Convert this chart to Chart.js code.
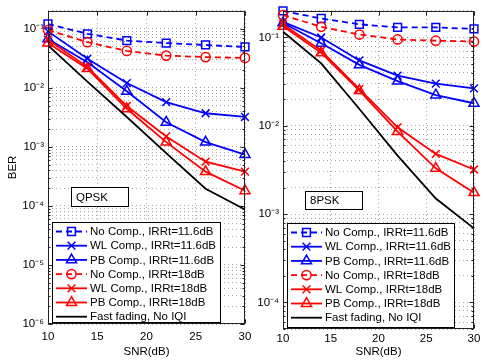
<!DOCTYPE html>
<html>
<head>
<meta charset="utf-8">
<script src="https://cdn.jsdelivr.net/npm/chart.js@4.4.0/dist/chart.umd.min.js"></script>
<style>
body{margin:0;background:#fff;width:485px;height:361px;position:relative;overflow:hidden}
canvas{position:absolute;top:0}
#qpsk{left:0}
#psk8{left:250px}
</style>
</head>
<body>
<canvas id="qpsk" width="258" height="361"></canvas>
<canvas id="psk8" width="235" height="361"></canvas>
<script>
// x axis
var snr = [10, 14, 18, 22, 26, 30]
var xTicks = [10, 15, 20, 25, 30]

var labels = ['No Comp., IRRt=11.6dB', 'WL Comp., IRRt=11.6dB', 'PB Comp., IRRt=11.6dB',
              'No Comp., IRRt=18dB', 'WL Comp., IRRt=18dB', 'PB Comp., IRRt=18dB',
              'Fast fading, No IQI']

// QPSK BER
var qpskNo116 = [0.12, 0.082, 0.063, 0.057, 0.053, 0.049]
var qpskWl116 = [0.09, 0.031, 0.012, 0.0057, 0.0037, 0.0032]
var qpskPb116 = [0.067, 0.027, 0.0087, 0.0026, 0.0012, 0.00074]
var qpskNo18  = [0.095, 0.059, 0.042, 0.035, 0.033, 0.032]
var qpskWl18  = [0.065, 0.0226, 0.0049, 0.0015, 0.00056, 0.00038]
var qpskPb18  = [0.057, 0.021, 0.0044, 0.0012, 0.00038, 0.00018]
var qpskFast  = [0.052, 0.0127, 0.0032, 0.00078, 0.000195, 0.000087]

// 8PSK BER
var psk8No116 = [0.2, 0.164, 0.141, 0.13, 0.13, 0.125]
var psk8Wl116 = [0.15, 0.1, 0.055, 0.037, 0.030, 0.0265]
var psk8Pb116 = [0.146, 0.086, 0.049, 0.032, 0.0223, 0.018]
var psk8No18  = [0.179, 0.132, 0.108, 0.095, 0.092, 0.09]
var psk8Wl18  = [0.141, 0.071, 0.026, 0.0096, 0.0048, 0.0032]
var psk8Pb18  = [0.134, 0.067, 0.025, 0.0086, 0.0033, 0.00175]
var psk8Fast  = [0.116, 0.051, 0.0155, 0.0046, 0.0015, 0.00069]

var FONT = '"Liberation Sans", Arial, Helvetica, sans-serif'

// line styles, same order as labels
var styles = [
    {color:'#0000ff', dash:[6,4], point:'rect', r:5.5},
    {color:'#0000ff', dash:[], point:'crossRot', r:5.5},
    {color:'#0000ff', dash:[], point:'triangle', r:5.8},
    {color:'#ff0000', dash:[6,4], point:'circle', r:4.6},
    {color:'#ff0000', dash:[], point:'crossRot', r:5.5},
    {color:'#ff0000', dash:[], point:'triangle', r:5.8},
    {color:'#000000', dash:[], point:false, r:0}
]

var sup = {'-':'\u207B','0':'\u2070','1':'\u00B9','2':'\u00B2','3':'\u00B3','4':'\u2074','5':'\u2075','6':'\u2076','7':'\u2077','8':'\u2078','9':'\u2079'}

function log_ticks(min, max){
    var out = []
    for(var e = Math.floor(Math.log10(min)); e <= Math.ceil(Math.log10(max)); e++){
        for(var m = 1; m <= 9; m++){
            var v = m * Math.pow(10, e)
            if(v >= min*(1-1e-9) && v <= max*(1+1e-9)) out.push({value:v, major: m == 1})
        }
    }
    return out
}

function decade_label(v){
    var l = Math.log10(v)
    if(Math.abs(l - Math.round(l)) > 1e-6) return ''
    return '10' + String(Math.round(l)).split('').map(function(c){return sup[c]}).join('')
}

function make_datasets(series){
    return series.map(function(ys, i){
        var s = styles[i]
        return {
            label: labels[i],
            data: snr.map(function(x, j){ return {x:x, y:ys[j]} }),
            borderColor: s.color,
            borderWidth: 1.8,
            borderDash: s.dash,
            pointStyle: s.point,
            pointRadius: s.r,
            pointBorderWidth: 1.5,
            pointBorderColor: s.color,
            pointBackgroundColor: 'rgba(0,0,0,0)',
            tension: 0,
            clip: false,
            order: series.length - i
        }
    })
}

// frame, inner tick marks, tag box and legend box
var decor = {
    id: 'decor',
    afterDraw: function(chart, args, o){
        var ctx = chart.ctx, a = chart.chartArea
        var L = Math.round(a.left)+0.5, R = Math.round(a.right)-0.5
        var T = Math.round(a.top)+0.5, B = Math.round(a.bottom)-0.5
        ctx.save()
        ctx.strokeStyle = '#222'
        ctx.lineWidth = 1
        ctx.setLineDash([])
        // inner ticks
        ctx.beginPath()
        chart.scales.y.ticks.forEach(function(t){
            var y = Math.round(chart.scales.y.getPixelForValue(t.value))+0.5
            var len = t.major ? 4 : 2
            ctx.moveTo(L, y); ctx.lineTo(L+len, y)
            ctx.moveTo(R, y); ctx.lineTo(R-len, y)
        })
        xTicks.forEach(function(v){
            var x = Math.round(chart.scales.x.getPixelForValue(v))+0.5
            ctx.moveTo(x, B); ctx.lineTo(x, B-4)
            ctx.moveTo(x, T); ctx.lineTo(x, T+4)
        })
        ctx.stroke()
        ctx.strokeRect(L, T, R-L, B-T)

        // tag box
        ctx.fillStyle = '#fff'
        ctx.fillRect(o.tag.x, o.tag.y, o.tag.w, o.tag.h)
        ctx.strokeStyle = '#000'
        ctx.strokeRect(o.tag.x+0.5, o.tag.y+0.5, o.tag.w, o.tag.h)
        ctx.fillStyle = '#000'
        ctx.font = '11.5px ' + FONT
        ctx.textBaseline = 'middle'
        ctx.fillText(o.tag.text, o.tag.x+5, o.tag.y+o.tag.h/2+1)

        // legend
        var g = o.legend
        ctx.fillStyle = '#fff'
        ctx.fillRect(g.x, g.y, g.w, g.h)
        ctx.strokeStyle = '#000'
        ctx.strokeRect(g.x+0.5, g.y+0.5, g.w, g.h)
        chart.data.datasets.forEach(function(ds, i){
            var s = styles[i]
            var y = g.y + 9.5 + i*g.row
            ctx.strokeStyle = s.color
            ctx.lineWidth = 1.8
            ctx.setLineDash(s.dash)
            ctx.beginPath()
            ctx.moveTo(g.x+4, y); ctx.lineTo(g.x+35, y)
            ctx.stroke()
            ctx.setLineDash([])
            if(s.point){
                ctx.lineWidth = 1.5
                ctx.fillStyle = 'rgba(0,0,0,0)'
                Chart.helpers.drawPoint(ctx, {pointStyle:s.point, radius:s.r, rotation:0, borderWidth:1.5}, g.x+19.5, y)
            }
            ctx.fillStyle = '#000'
            ctx.fillText(ds.label, g.x+38, y+0.5)
        })
        ctx.restore()
    }
}

function make_chart(id, series, ymin, ymax, geo){
    var tickFont = {family: FONT, size: 11.5}
    return new Chart(document.getElementById(id).getContext('2d'), {
        type: 'line',
        data: { datasets: make_datasets(series) },
        options: {
            responsive: false,
            animation: false,
            layout: { padding: {left:0, right:geo.padRight, top:10, bottom:0} },
            plugins: {
                legend: {display:false},
                tooltip: {enabled:false},
                decor: { tag: geo.tag, legend: geo.legend }
            },
            scales: {
                x: {
                    type: 'linear', min: 10, max: 30,
                    afterBuildTicks: function(s){ s.ticks = xTicks.map(function(v){return {value:v}}) },
                    afterFit: function(s){ s.height = geo.xh },
                    ticks: {autoSkip:false, maxRotation:0, padding:geo.xpad, color:'#000', font:tickFont},
                    grid: {color:'#a8a8a8', lineWidth:1, drawTicks:false},
                    border: {display:false, dash:[1,3]},
                    title: {display:true, text:'SNR(dB)', color:'#000', font:tickFont, padding:{top:0, bottom:2}}
                },
                y: {
                    type: 'logarithmic', min: ymin, max: ymax,
                    afterBuildTicks: function(s){ s.ticks = log_ticks(ymin, ymax) },
                    afterFit: function(s){ s.width = geo.yw },
                    ticks: {autoSkip:false, padding:4, color:'#000', font:tickFont, callback: decade_label},
                    grid: {color:'#a8a8a8', lineWidth:1, drawTicks:false},
                    border: {display:false, dash:[1,3]},
                    title: {display:geo.yTitle, text:'BER', color:'#000', font:tickFont, padding:{top:6, bottom:0}}
                }
            }
        },
        plugins: [decor]
    })
}

make_chart('qpsk',
    [qpskNo116, qpskWl116, qpskPb116, qpskNo18, qpskWl18, qpskPb18, qpskFast],
    1e-6, 0.2,
    {padRight:13, xh:37, xpad:6, yw:48, yTitle:true,
     tag:{x:71, y:187, w:57, h:19, text:'QPSK'},
     legend:{x:52, y:222, w:168, h:100, row:14.2}})

make_chart('psk8',
    [psk8No116, psk8Wl116, psk8Pb116, psk8No18, psk8Wl18, psk8Pb18, psk8Fast],
    5e-5, 0.2,
    {padRight:11, xh:32, xpad:3, yw:33, yTitle:false,
     tag:{x:55, y:191, w:57, h:18, text:'8PSK'},
     legend:{x:37, y:223, w:167, h:104, row:14.2}})
</script>
</body>
</html>
